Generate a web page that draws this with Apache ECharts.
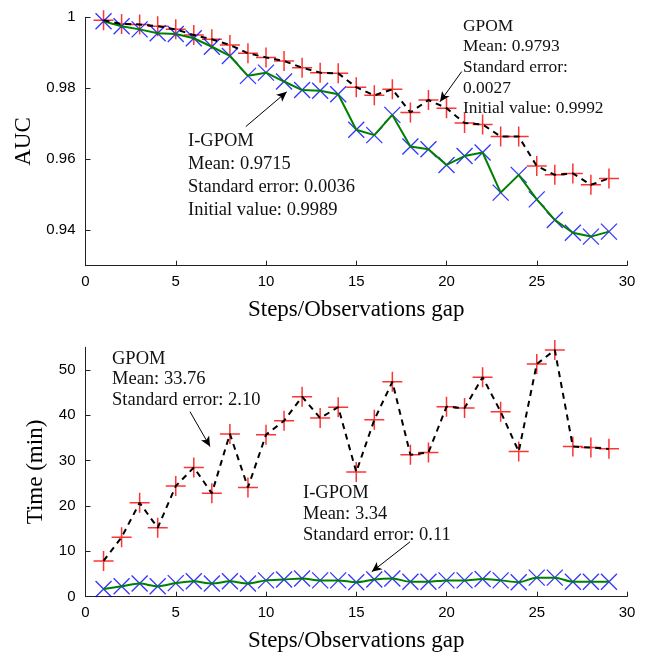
<!DOCTYPE html>
<html>
<head>
<meta charset="utf-8">
<script src="https://cdn.jsdelivr.net/npm/echarts@6/dist/echarts.min.js"></script>
<style>
html, body { margin: 0; padding: 0; background: #fff; }
#container { width: 647px; height: 655px; }
</style>
</head>
<body>
<div id="container"></div>
<script>
// steps / observations gap
var steps = [1, 2, 3, 4, 5, 6, 7, 8, 9, 10, 11, 12, 13, 14, 15, 16, 17, 18, 19, 20, 21, 22, 23, 24, 25, 26, 27, 28, 29];

// AUC
var aucGpom = [0.9992, 0.9981, 0.9980, 0.9975, 0.9966, 0.9950, 0.9938, 0.9922, 0.9899, 0.9887,
	0.9877, 0.9858, 0.9844, 0.9842, 0.9803, 0.9780, 0.9797, 0.9732, 0.9767, 0.9744,
	0.9702, 0.9698, 0.9664, 0.9664, 0.9581, 0.9556, 0.9560, 0.9528, 0.9546];
var aucIgpom = [0.9989, 0.9975, 0.9966, 0.9955, 0.9953, 0.9941, 0.9917, 0.9891, 0.9835, 0.9844,
	0.9819, 0.9795, 0.9793, 0.9783, 0.9683, 0.9668, 0.9725, 0.9636, 0.9628, 0.9584,
	0.9609, 0.9619, 0.9506, 0.9556, 0.9487, 0.9429, 0.9393, 0.9382, 0.9396];

// Time (min)
var timeGpom = [7.9, 13.1, 20.7, 15.2, 24.4, 28.5, 22.8, 35.9, 24.1, 35.7,
	38.8, 44.1, 39.4, 41.8, 27.5, 39.0, 47.4, 31.3, 31.8, 41.9,
	41.6, 48.4, 40.8, 32.0, 51.3, 54.4, 33.1, 32.9, 32.6];
var timeIgpom = [1.7, 2.3, 2.9, 2.3, 3.0, 3.4, 2.9, 3.4, 2.9, 3.6,
	3.8, 4.0, 3.6, 3.6, 3.2, 3.8, 4.0, 3.3, 3.3, 3.6,
	3.6, 3.9, 3.6, 3.2, 4.2, 4.2, 3.3, 3.3, 3.3];

// tick labels
var stepTicks = [0, 5, 10, 15, 20, 25, 30];
var aucTicks = [0.94, 0.96, 0.98, 1];
var timeTicks = [0, 10, 20, 30, 40, 50];

// annotation arrows [from, to] in data units
var aucArrows = [[[20.84, 0.9847], [19.64, 0.9762]], [[8.88, 0.9692], [11.15, 0.9790]]];
var timeArrows = [[[5.79, 40.8], [6.90, 33.1]], [[17.98, 12.1], [15.86, 5.5]]];

var serif = '"Liberation Serif", "Times New Roman", serif';
var sans = '"Liberation Sans", Arial, sans-serif';
var plusPath = 'path://M10,0 L10,20 M0,10 L20,10';
var crossPath = 'path://M0,0 L16,16 M16,0 L0,16';

function pairs(ys) {
	var out = [];
	for (var i = 0; i < steps.length; i++) {
		out.push([steps[i], ys[i]]);
	}
	return out;
}

function arrowData(list) {
	return list.map(function(a) {
		return [{ coord: a[0] }, { coord: a[1] }];
	});
}

function xAxisCfg(idx) {
	return {
		gridIndex: idx,
		type: 'value',
		min: 0,
		max: 30,
		interval: 5,
		name: 'Steps/Observations gap',
		nameLocation: 'middle',
		nameGap: 33,
		nameTextStyle: { fontFamily: serif, fontSize: 23, color: '#000' },
		axisLine: { lineStyle: { color: '#222', width: 1 } },
		axisTick: { inside: true, length: 5, lineStyle: { color: '#222' }, customValues: stepTicks },
		axisLabel: { fontFamily: sans, fontSize: 15, color: '#000', margin: 9, customValues: stepTicks },
		splitLine: { show: false }
	};
}

function yAxisCfg(idx, name, min, max, ticks, gap) {
	return {
		gridIndex: idx,
		type: 'value',
		min: min,
		max: max,
		name: name,
		nameLocation: 'middle',
		nameGap: gap,
		nameTextStyle: { fontFamily: serif, fontSize: 23, color: '#000' },
		axisLine: { show: true, lineStyle: { color: '#222', width: 1 } },
		axisTick: { show: true, inside: true, length: 5, lineStyle: { color: '#222' }, customValues: ticks },
		axisLabel: { fontFamily: sans, fontSize: 15, color: '#000', margin: 10, customValues: ticks },
		splitLine: { show: false }
	};
}

function annot(x, y, size, lh, lines) {
	return {
		type: 'text',
		left: x,
		top: y,
		silent: true,
		style: {
			text: lines.join('\n'),
			font: size + 'px ' + serif,
			fill: '#111',
			lineHeight: lh
		}
	};
}

function markerSeries(idx, ys, symbol, size, color, bw) {
	return {
		type: 'scatter',
		xAxisIndex: idx,
		yAxisIndex: idx,
		data: pairs(ys),
		symbol: symbol,
		symbolSize: size,
		itemStyle: { color: color, borderColor: color, borderWidth: bw },
		z: 2,
		silent: true
	};
}

function main() {
	var dom = document.getElementById('container');
	var myChart = echarts.init(dom);
	var option = {
		animation: false,
		grid: [
			{ left: 85.5, top: 17.3, width: 541.5, height: 248.4 },
			{ left: 85.5, top: 347.3, width: 541.5, height: 249.4 }
		],
		xAxis: [xAxisCfg(0), xAxisCfg(1)],
		yAxis: [
			yAxisCfg(0, 'AUC', 0.93, 1, aucTicks, 47),
			yAxisCfg(1, 'Time (min)', 0, 55, timeTicks, 37)
		],
		series: [
			markerSeries(0, aucGpom, plusPath, 20, '#ff0000', 1.5),
			markerSeries(0, aucIgpom, crossPath, 16, '#0000ff', 1.3),
			{
				type: 'line', xAxisIndex: 0, yAxisIndex: 0, data: pairs(aucIgpom),
				showSymbol: false, lineStyle: { color: '#008000', width: 2 }, z: 3, silent: true
			},
			{
				type: 'line', xAxisIndex: 0, yAxisIndex: 0, data: pairs(aucGpom),
				showSymbol: false, lineStyle: { color: '#000', width: 2, type: [6, 5] }, z: 4, silent: true,
				markLine: {
					silent: true, symbol: ['none', 'arrow'], symbolSize: [7, 10],
					label: { show: false }, lineStyle: { color: '#000', width: 1, type: 'solid' },
					data: arrowData(aucArrows)
				}
			},
			markerSeries(1, timeGpom, plusPath, 20, '#ff0000', 1.5),
			markerSeries(1, timeIgpom, crossPath, 16, '#0000ff', 1.3),
			{
				type: 'line', xAxisIndex: 1, yAxisIndex: 1, data: pairs(timeIgpom), smooth: 0.3,
				showSymbol: false, lineStyle: { color: '#008000', width: 2 }, z: 3, silent: true
			},
			{
				type: 'line', xAxisIndex: 1, yAxisIndex: 1, data: pairs(timeGpom),
				showSymbol: false, lineStyle: { color: '#000', width: 2, type: [6, 5] }, z: 4, silent: true,
				markLine: {
					silent: true, symbol: ['none', 'arrow'], symbolSize: [7, 10],
					label: { show: false }, lineStyle: { color: '#000', width: 1, type: 'solid' },
					data: arrowData(timeArrows)
				}
			}
		],
		graphic: [
			annot(463, 16, 17.4, 20.6, ['GPOM', 'Mean: 0.9793', 'Standard error:', '0.0027', 'Initial value: 0.9992']),
			annot(188, 129, 18.5, 23.3, ['I-GPOM', 'Mean: 0.9715', 'Standard error: 0.0036', 'Initial value: 0.9989']),
			annot(112, 349, 18.5, 20.3, ['GPOM', 'Mean: 33.76', 'Standard error: 2.10']),
			annot(303, 483, 18.5, 21, ['I-GPOM', 'Mean: 3.34', 'Standard error: 0.11'])
		]
	};
	myChart.setOption(option, true);
}
main();
</script>
</body>
</html>
